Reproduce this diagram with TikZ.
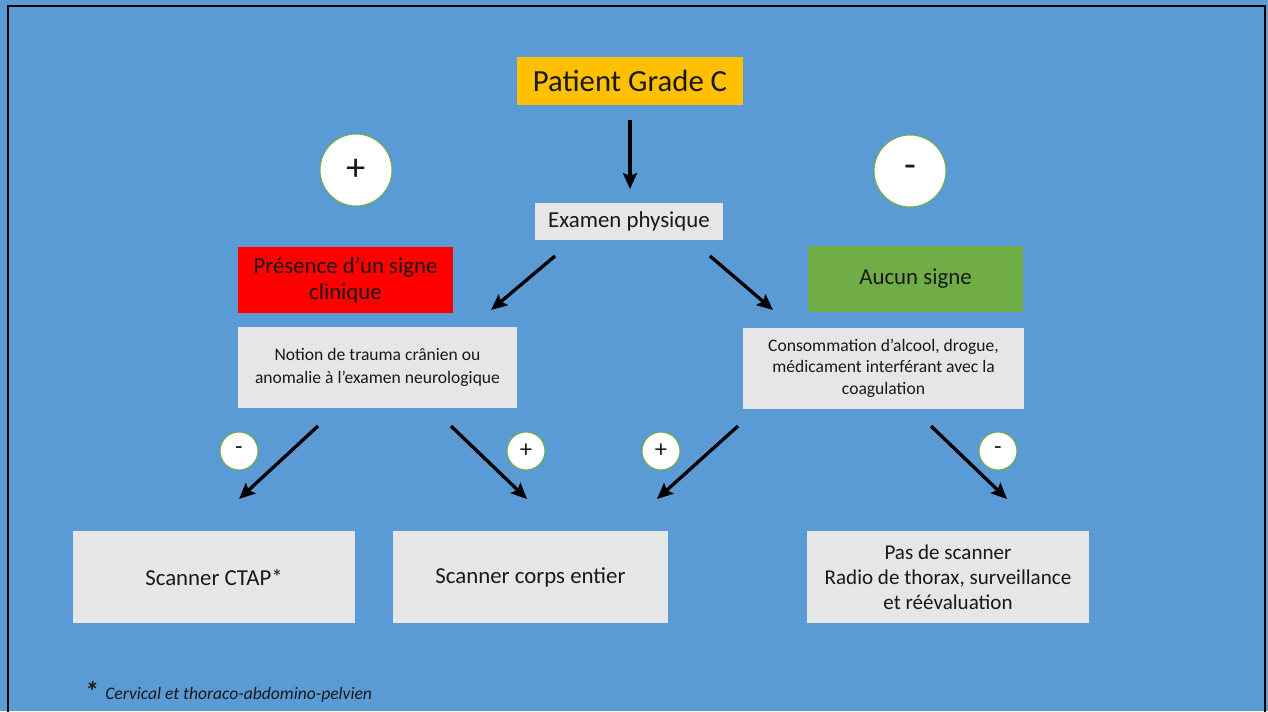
\documentclass[tikz,border=0pt]{standalone}
\usepackage{fontspec}
\setmainfont{Carlito}
\usetikzlibrary{positioning,calc,arrows.meta}
\definecolor{slide}{HTML}{5B9BD5}
\definecolor{boxgray}{HTML}{E7E6E6}
\definecolor{gradeC}{HTML}{FFC000}
\definecolor{signred}{HTML}{FF0000}
\definecolor{signgreen}{HTML}{70AD47}

\begin{document}
\begin{tikzpicture}[x=0.02cm, y=-0.02cm,
    every node/.style={rectangle, align=center, inner sep=0pt, text=black!90},
    box/.style={fill=boxgray, minimum height=1.84cm, font=\fontsize{13}{16}\selectfont},
    sign/.style={circle, fill=white, draw=signgreen, line width=0.6pt},
    bigsign/.style={sign, minimum size=1.44cm, font=\fontsize{22}{22}\selectfont},
    smallsign/.style={sign, minimum size=0.76cm, font=\fontsize{14}{14}\selectfont},
    flow/.style={-{Stealth[length=9pt, width=8pt, inset=1.5pt]}, line width=1.9pt, black}]
    \useasboundingbox (0,0) rectangle (1268,711);
    \fill [slide] (0,0) rectangle (1268,711);
    \draw [line width=1.5pt, line cap=rect] (8,711) -- (8,6) -- (1265,6) -- (1265,711);

    \node [fill=gradeC, minimum width=4.52cm, minimum height=0.96cm, font=\fontsize{17.5}{20}\selectfont] (patient) at (630,81) {Patient Grade C};
    \node [fill=boxgray, minimum width=3.76cm, minimum height=0.74cm, font=\fontsize{13}{16}\selectfont] (exam) at (629,221.5) {Examen physique};
    \node [fill=signred, minimum width=4.3cm, minimum height=1.32cm, font=\fontsize{13}{15}\selectfont] (presence) at (345.5,280) {Présence d’un signe\\clinique};
    \node [fill=signgreen, minimum width=4.3cm, minimum height=1.32cm, font=\fontsize{13}{15}\selectfont] (aucun) at (915.5,279) {Aucun signe};
    \node [fill=boxgray, minimum width=5.58cm, minimum height=1.62cm, font=\fontsize{10}{13}\selectfont] (notion) at (377.5,367.5) {Notion de trauma crânien ou\\anomalie à l’examen neurologique};
    \node [fill=boxgray, minimum width=5.62cm, minimum height=1.62cm, font=\fontsize{10}{12.2}\selectfont] (conso) at (883.5,368) {Consommation d’alcool, drogue,\\médicament interférant avec la\\coagulation};
    \node [box, minimum width=5.64cm] (ctap) at (214,577) {Scanner CTAP*};
    \node [box, minimum width=5.5cm] (corps) at (530.5,577) {Scanner corps entier};
    \node [box, minimum width=5.64cm, font=\fontsize{12}{14.2}\selectfont] (pas) at (948,577) {Pas de scanner\\Radio de thorax, surveillance\\et réévaluation};

    \node [bigsign] (plus) at (356,170) {+};
    \node [bigsign] (minus) at (910,171) {-};
    \node [smallsign] (s1) at (239,451) {-};
    \node [smallsign] (s2) at (526,451) {+};
    \node [smallsign] (s3) at (661,451) {+};
    \node [smallsign] (s4) at (998,451) {-};

    % free ends of the arrows
    \coordinate (a0) at (630,120);  \coordinate (b0) at (630,189);
    \coordinate (a1) at (555,256);  \coordinate (b1) at (491,310);
    \coordinate (a2) at (710,256);  \coordinate (b2) at (773,310);
    \coordinate (a3) at (318,426);  \coordinate (b3) at (239,499);
    \coordinate (a4) at (451,426);  \coordinate (b4) at (527,499);
    \coordinate (a5) at (738,426);  \coordinate (b5) at (657,499);
    \coordinate (a6) at (931,426);  \coordinate (b6) at (1007,499);

    \foreach \i in {0,...,6}
        \draw [flow] (a\i) -- (b\i);

    \node [anchor=base west, font=\fontsize{10}{12}\selectfont\itshape] (note) at (84,699) {\raisebox{-1.5pt}{\fontsize{16}{16}\selectfont\bfseries *}\, Cervical et thoraco-abdomino-pelvien};
\end{tikzpicture}
\end{document}
